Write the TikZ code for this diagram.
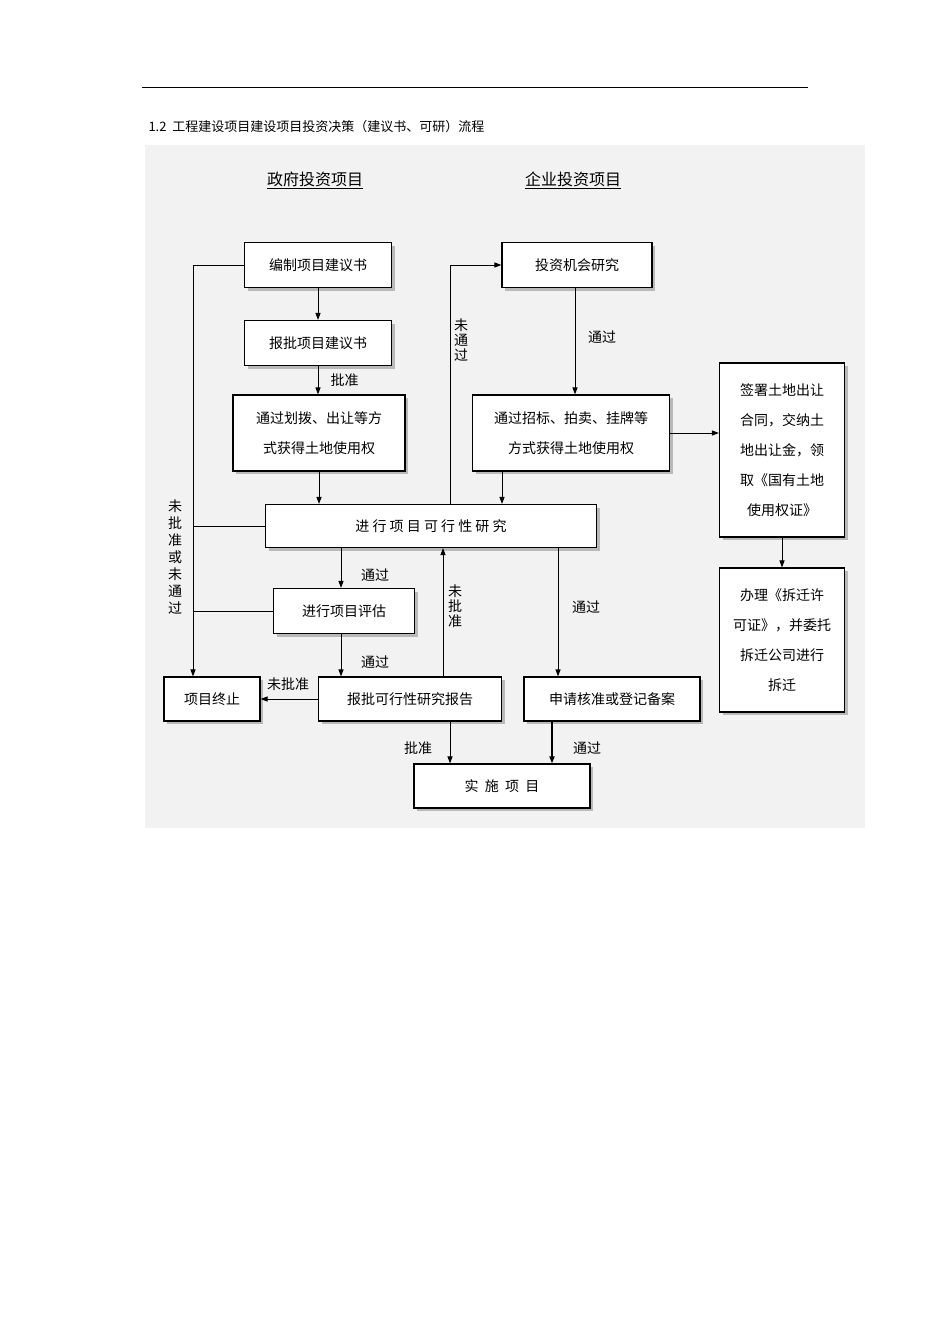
\documentclass[tikz,border=0pt]{standalone}
\usepackage{fontspec}
\setmainfont{Liberation Sans}
\newfontfamily\cjk{Noto Sans CJK SC}
\usetikzlibrary{shadows,arrows.meta}
\begin{document}
\begin{tikzpicture}[x=1pt,y=-1pt,
  box/.style={draw,line width=1.1pt,fill=white,align=center,font=\cjk\fontsize{14}{30}\selectfont,inner sep=0pt,
    drop shadow={shadow xshift=3pt,shadow yshift=-3pt,fill=gray!55,opacity=1}},
  arr/.style={-{Triangle[length=7pt,width=5pt]},line width=1pt},
  ln/.style={line width=1pt},
  lab/.style={font=\cjk\fontsize{14}{15}\selectfont,inner sep=0pt},
  vlab/.style={font=\cjk\fontsize{14}{15}\selectfont,inner sep=0pt,align=center}]
\useasboundingbox (0,0) rectangle (950,1344);
\fill[white] (0,0) rectangle (950,1344);
\draw[line width=0.6pt] (142,87) -- (808,87);
\node[anchor=west,font=\cjk\fontsize{13}{15}\selectfont] (title) at (145,127) {1.2\ \ 工程建设项目建设项目投资决策（建议书、可研）流程};
\fill[gray!10] (145,145) rectangle (865,828);
\node[font=\cjk\fontsize{16}{18}\selectfont,inner sep=1pt] (h1) at (315,180) {\underline{政府投资项目}};
\node[font=\cjk\fontsize{16}{18}\selectfont,inner sep=1pt] (h2) at (573,180) {\underline{企业投资项目}};
% boxes
\node[box,minimum width=147pt,minimum height=45pt] (bz) at (318,265) {编制项目建议书};
\node[box,minimum width=147pt,minimum height=45pt] (bp) at (318,343) {报批项目建议书};
\node[box,minimum width=172pt,minimum height=76pt] (hb) at (319,433) {通过划拨、出让等方\\式获得土地使用权};
\node[box,minimum width=150pt,minimum height=45pt] (tz) at (577,265) {投资机会研究};
\node[box,minimum width=197pt,minimum height=76pt] (zb) at (571,433) {通过招标、拍卖、挂牌等\\方式获得土地使用权};
\node[box,minimum width=125pt,minimum height=174pt] (qs) at (782,450) {签署土地出让\\合同，交纳土\\地出让金，领\\取《国有土地\\使用权证》};
\node[box,minimum width=331pt,minimum height=43pt] (kx) at (431,526) {进\ 行\ 项\ 目\ 可\ 行\ 性\ 研\ 究};
\node[box,minimum width=141pt,minimum height=45pt] (pg) at (344,611) {进行项目评估};
\node[box,minimum width=96pt,minimum height=44pt] (zz) at (212,699) {项目终止};
\node[box,minimum width=183pt,minimum height=44pt] (bg) at (410,699) {报批可行性研究报告};
\node[box,minimum width=176pt,minimum height=44pt] (sq) at (612,699) {申请核准或登记备案};
\node[box,minimum width=125pt,minimum height=144pt] (cq) at (782,640) {办理《拆迁许\\可证》，并委托\\拆迁公司进行\\拆迁};
\node[box,minimum width=176pt,minimum height=44pt] (ss) at (502,786) {实\ \ 施\ \ 项\ \ 目};
% connectors
\coordinate (L1) at (193,265);
\draw[arr] (bz.west) -- (L1) -- (zz.north -| L1);
\draw[ln] (kx.west) -- (kx.west -| L1);
\draw[ln] (pg.west) -- (pg.west -| L1);
\node[vlab] (l0) at (175,557) {未\\[2pt]批\\[2pt]准\\[2pt]或\\[2pt]未\\[2pt]通\\[2pt]过};
\draw[arr] (bz) -- (bp);
\draw[arr] (bp) -- (bp.south |- hb.north) node[lab,midway,right=12pt] (l1) {批准};
\draw[arr] (hb.south) -- (hb.south |- kx.north);
\coordinate (U) at (450,265);
\draw[arr] (kx.north -| U) -- (U) -- (tz.west);
\node[vlab] (l2) at (461,340) {未\\通\\过};
\draw[arr] (tz.south -| 575,0) -- (zb.north -| 575,0);
\node[lab] (l3) at (602,337) {通过};
\draw[arr] (zb.south -| 502,0) -- (kx.north -| 502,0);
\draw[arr] (zb.east) -- (qs.west |- zb.east);
\draw[arr] (qs.south) -- (cq.north);
\draw[arr] (kx.south -| 341,0) -- (pg.north -| 341,0);
\node[lab] (l4) at (375,575) {通过};
\draw[arr] (pg.south -| 341,0) -- (bg.north -| 341,0);
\node[lab] (l5) at (375,662) {通过};
\draw[arr] (bg.north -| 443,0) -- (kx.south -| 443,0);
\node[vlab] (l6) at (455,606) {未\\批\\准};
\draw[arr] (bg.west) -- (zz.east);
\node[lab] (l7) at (288,684) {未批准};
\draw[arr] (kx.south -| 558,0) -- (sq.north -| 558,0);
\node[lab] (l8) at (586,607) {通过};
\draw[arr] (bg.south -| 450,0) -- (ss.north -| 450,0);
\node[lab] (l9) at (418,748) {批准};
\draw[arr,line width=1.6pt] (sq.south -| 552,0) -- (ss.north -| 552,0);
\node[lab] (l10) at (587,748) {通过};
\end{tikzpicture}
\end{document}
